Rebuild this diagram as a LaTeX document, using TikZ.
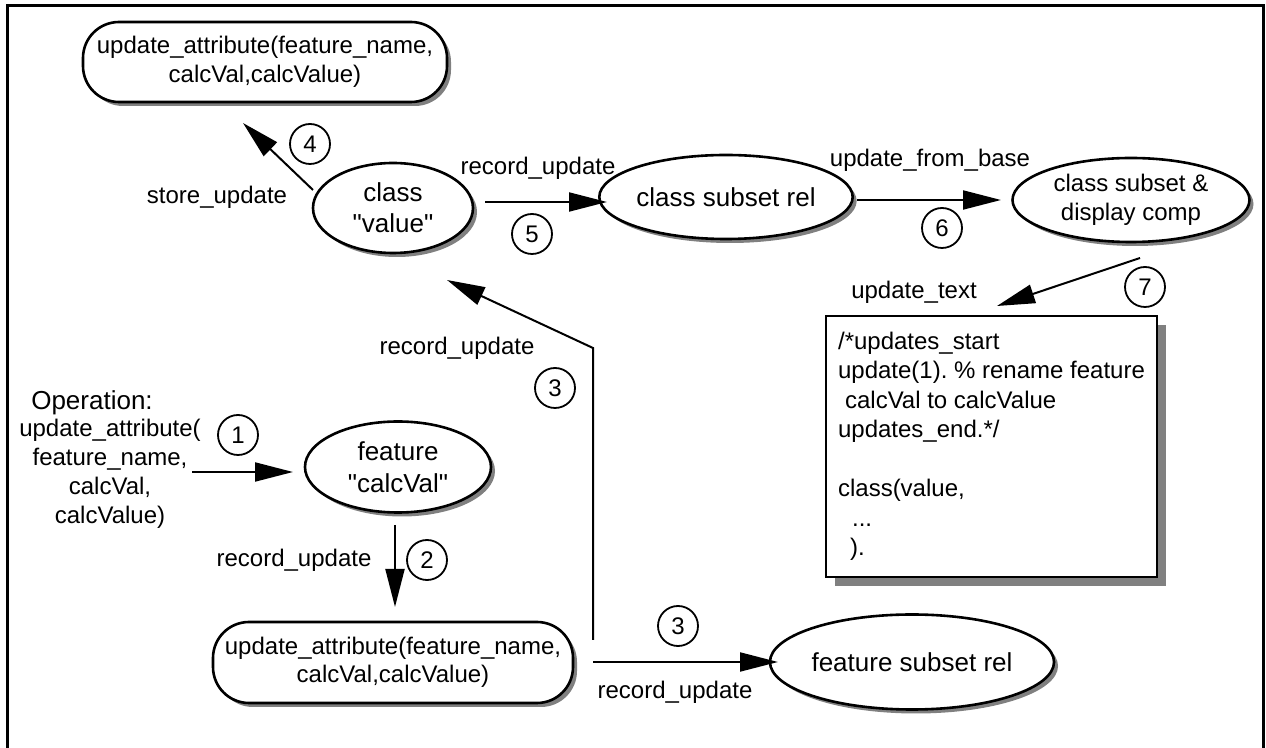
\documentclass[tikz,border=0pt]{standalone}
\usepackage{fontspec}
\setmainfont{Liberation Sans}
\usetikzlibrary{shapes.geometric,shadows,arrows.meta}
\begin{document}
\begin{tikzpicture}[x=0.5pt,y=-0.5pt,
  lab/.style={font=\fontsize{12}{14.5}\selectfont, inner sep=0pt, align=center},
  num/.style={circle, draw, line width=0.9pt, minimum size=20pt, inner sep=0pt, font=\fontsize{12}{14}\selectfont},
  shad/.style={drop shadow={shadow xshift=2pt, shadow yshift=-2pt, fill=black!50, opacity=1}},
  ell/.style={ellipse, draw, line width=1.3pt, fill=white, shad, inner sep=0pt, align=center, font=\fontsize{13}{15.5}\selectfont},
  rbox/.style={rectangle, rounded corners=18pt, draw, line width=1.3pt, fill=white, shad, inner sep=0pt, align=center, font=\fontsize{12}{14.5}\selectfont},
  arr/.style={line width=1pt, -{Triangle[length=19pt,width=9.5pt]}},
]
\useasboundingbox (0,0) rectangle (1266,748);
\draw[line width=1.5pt] (7,770) -- (7,6) -- (1263,6) -- (1263,770);

% nodes
\node[rbox, minimum width=182pt, minimum height=40pt] (top) at (265,62) {update\_attribute(feature\_name,\\calcVal,calcValue)};
\node[ell, minimum width=80pt, minimum height=45pt] (val) at (393,208) {class\\\textquotedbl value\textquotedbl};
\node[ell, minimum width=106pt, minimum height=42pt] (csr) at (726,197) {class subset rel};
\node[ell, minimum width=118.5pt, minimum height=42pt, font=\fontsize{12}{14.5}\selectfont] (csd) at (1131,200) {class subset \&\\display comp};
\node[ell, minimum width=93pt, minimum height=45.5pt, font=\fontsize{13}{16}\selectfont] (fcv) at (398,467) {feature\\\textquotedbl calcVal\textquotedbl};
\node[rbox, minimum width=180pt, minimum height=40.5pt, font=\fontsize{12}{14}\selectfont] (bot) at (393,662.5) {update\_attribute(feature\_name,\\calcVal,calcValue)};
\node[ell, minimum width=117pt, minimum height=47.5pt] (fsr) at (912,662) {feature subset rel};
\node[rectangle, draw, line width=1.3pt, fill=white,
      drop shadow={shadow xshift=4.5pt, shadow yshift=-4.5pt, fill=black!50, opacity=1},
      minimum height=130.5pt, minimum width=165.5pt, inner sep=0pt,
      align=left, font=\frenchspacing\fontsize{12}{14.75}\selectfont] (txt) at (991.5,446.5)
  {/*updates\_start\\
   update(1). \% rename feature\\
   \hspace*{3.5pt}calcVal to calcValue\\
   updates\_end.*/\\
   \mbox{}\\
   class(value,\\
   \hspace*{7pt}...\\
   \hspace*{6pt}).};

% labels
\node[lab] (lstore) at (217,197) {store\_update};
\node[lab] (lrec5) at (538,168) {record\_update};
\node[lab] (lufb) at (930,160) {update\_from\_base};
\node[lab] (lut) at (914,292) {update\_text};
\node[lab] (lrec3a) at (457,348) {record\_update};
\node[lab, font=\fontsize{13}{15}\selectfont] (lop) at (92,403) {Operation:};
\node[lab, font=\fontsize{12}{14.5}\selectfont] (lopargs) at (110,474) {update\_attribute(\\feature\_name,\\calcVal,\\calcValue)};
\node[lab] (lrec2) at (294,560) {record\_update};
\node[lab] (lrec3b) at (675,692) {record\_update};

% numbers
\node[num] (c1) at (238,435) {1};
\node[num] (c2) at (427,560) {2};
\node[num] (c3a) at (555,388) {3};
\node[num] (c3b) at (678,626) {3};
\node[num] (c4) at (310,144) {4};
\node[num] (c5) at (532,234) {5};
\node[num] (c6) at (942,228) {6};
\node[num] (c7) at (1145,287) {7};

% connector end points
\coordinate (a1s) at (192,472);  \coordinate (a1e) at (293,472);
\coordinate (a2s) at (395,525);  \coordinate (a2e) at (395,607);
\coordinate (a3s) at (593,640);  \coordinate (a3m) at (593,348); \coordinate (a3e) at (447,280);
\coordinate (a3bs) at (593,662); \coordinate (a3be) at (778,662);
\coordinate (a4s) at (313,190);  \coordinate (a4e) at (243,123);
\coordinate (a5s) at (485,202);  \coordinate (a5e) at (607,202);
\coordinate (a6s) at (857,200);  \coordinate (a6e) at (1001,200);
\coordinate (a7s) at (1140,258); \coordinate (a7e) at (997,306);

\draw[arr] (a1s) -- (a1e);
\draw[arr] (a2s) -- (a2e);
\draw[arr] (a3s) -- (a3m) -- (a3e);
\draw[arr] (a3bs) -- (a3be);
\draw[arr] (a4s) -- (a4e);
\draw[arr] (a5s) -- (a5e);
\draw[arr] (a6s) -- (a6e);
\draw[arr] (a7s) -- (a7e);
\end{tikzpicture}
\end{document}
